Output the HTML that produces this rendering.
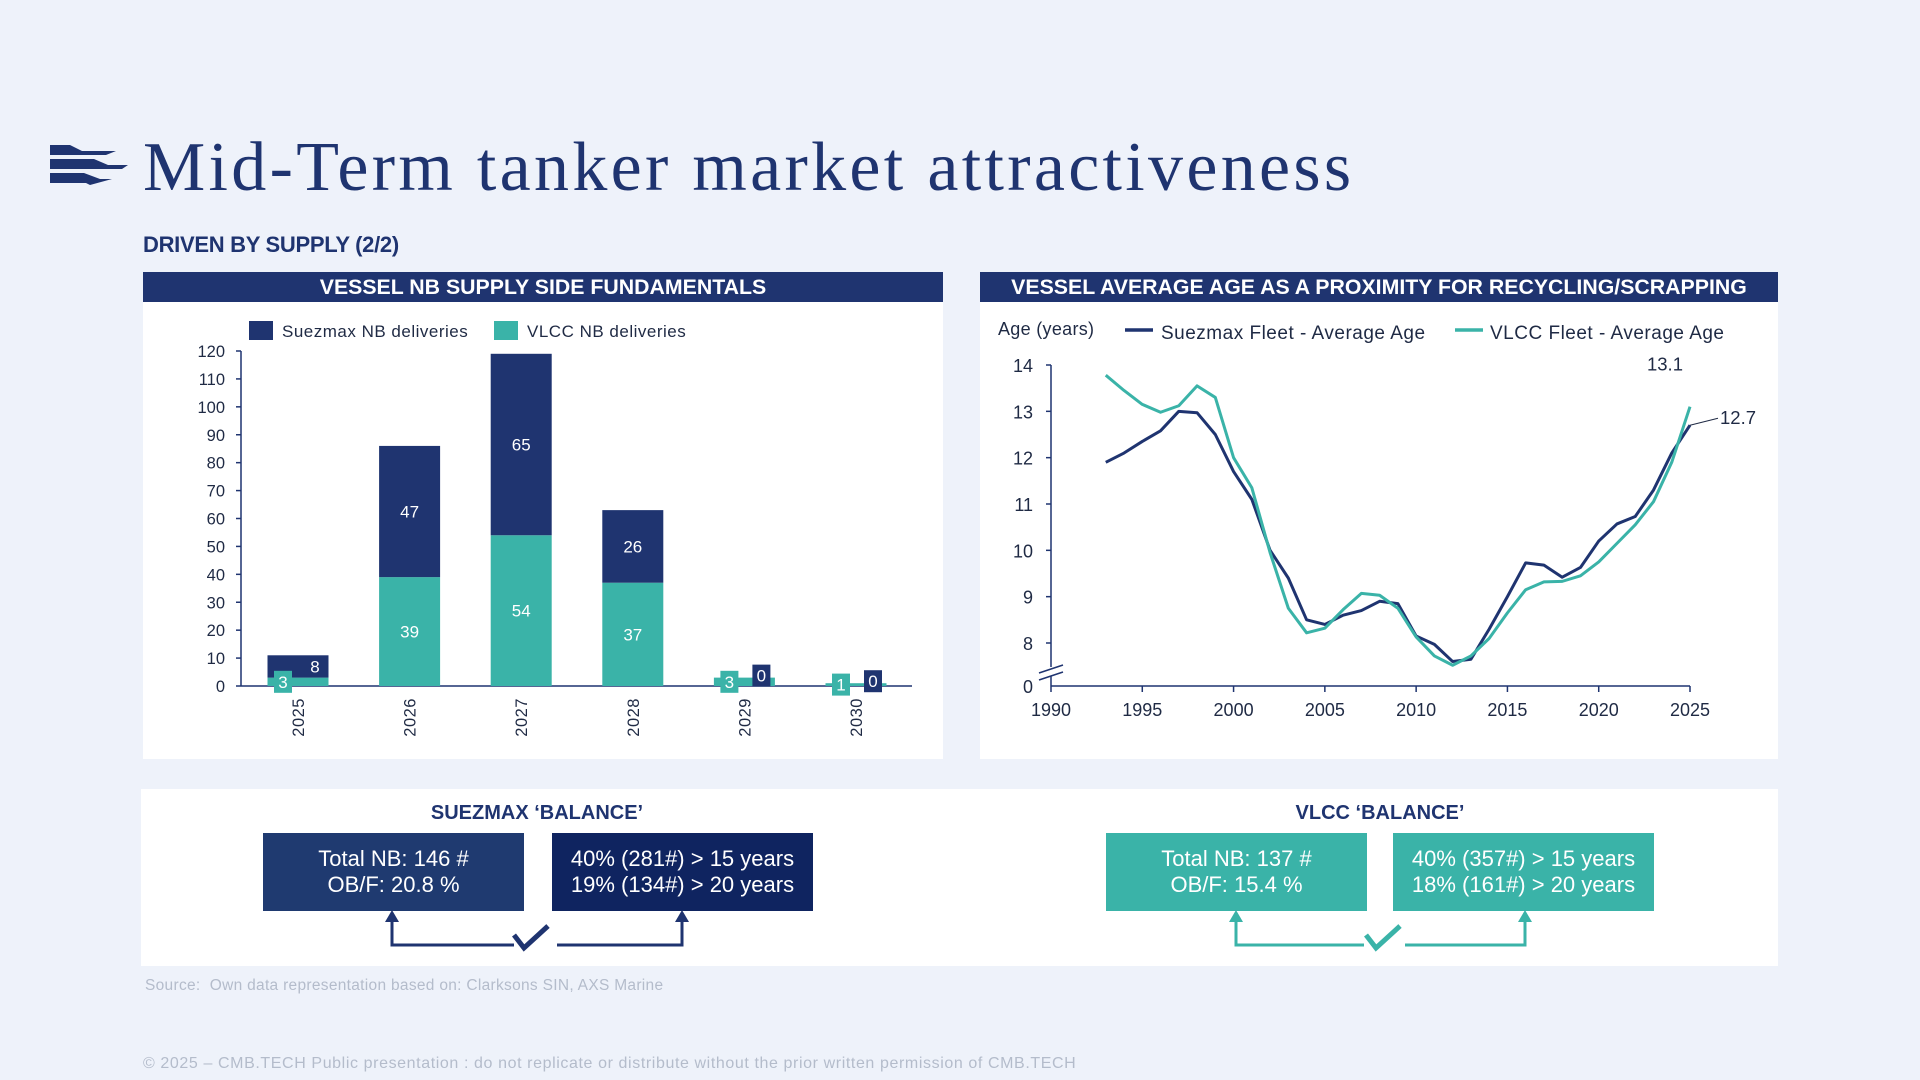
<!DOCTYPE html>
<html><head><meta charset="utf-8">
<style>
body{margin:0;width:1920px;height:1080px;background:#eef2fa;font-family:"Liberation Sans",sans-serif;position:relative;overflow:hidden;color:#1f3470}
.abs{position:absolute}
.panel{position:absolute;background:#fff}
.hdr{position:absolute;left:0;right:0;top:0;height:30px;background:#1f3470;color:#fff;font-weight:bold;font-size:21.3px;text-align:center;line-height:30px;letter-spacing:0px}
.box{position:absolute;color:#fff;font-size:22px;text-align:center;display:flex;flex-direction:column;justify-content:center;line-height:26px}
.bt{position:absolute;font-weight:bold;font-size:20px;text-align:center;width:400px}
</style></head><body>
<svg class="abs" style="left:50px;top:143px" width="78" height="44">
<path d="M0 2 H20 L32 8 H66 L56 12 H0Z M0 16 H44 L58 22 H78 L72 26 H0Z M0 30 H34 L50 36 H62 L40 42 L36 40 H0Z" fill="#1f3470"/>
</svg>
<div class="abs" style="left:143px;top:128px;font-family:'Liberation Serif',serif;font-size:70px;color:#1f3470;letter-spacing:3.3px">Mid-Term tanker market attractiveness</div>
<div class="abs" style="left:143px;top:232px;font-size:22px;font-weight:bold;letter-spacing:-0.3px">DRIVEN BY SUPPLY (2/2)</div>

<div class="panel" style="left:143px;top:272px;width:800px;height:487px">
<div class="hdr">VESSEL NB SUPPLY SIDE FUNDAMENTALS</div>
</div>
<div class="panel" style="left:980px;top:272px;width:798px;height:487px">
<div class="hdr">VESSEL AVERAGE AGE AS A PROXIMITY FOR RECYCLING/SCRAPPING</div>
</div>

<svg id="bar" class="abs" style="left:0;top:0" width="1920" height="1080"></svg>

<div class="panel" style="left:141px;top:789px;width:1637px;height:177px"></div>
<div class="bt" style="left:337px;top:802px">SUEZMAX ‘BALANCE’</div>
<div class="bt" style="left:1180px;top:802px">VLCC ‘BALANCE’</div>
<div class="box" style="left:263px;top:833px;width:261px;height:78px;background:#1f3a70"><div>Total NB: 146 #</div><div>OB/F: 20.8 %</div></div>
<div class="box" style="left:552px;top:833px;width:261px;height:78px;background:#0f2460"><div>40% (281#) &gt; 15 years</div><div>19% (134#) &gt; 20 years</div></div>
<div class="box" style="left:1106px;top:833px;width:261px;height:78px;background:#3ab3a8"><div>Total NB: 137 #</div><div>OB/F: 15.4 %</div></div>
<div class="box" style="left:1393px;top:833px;width:261px;height:78px;background:#3ab3a8"><div>40% (357#) &gt; 15 years</div><div>18% (161#) &gt; 20 years</div></div>
<svg class="abs" style="left:0;top:0" width="1920" height="1080">
<g fill="none" stroke="#1f3470" stroke-width="3">
<path d="M392 918 V945 H514 M557 945 H682 V918"/>
<path d="M514 935 L524 948 L548 926" stroke-width="5"/>
</g>
<path d="M385 922 L392 910 L399 922Z M675 922 L682 910 L689 922Z" fill="#1f3470"/>
<g fill="none" stroke="#3ab3a8" stroke-width="3">
<path d="M1236 918 V945 H1364 M1405 945 H1525 V918"/>
<path d="M1366 935 L1376 948 L1400 926" stroke-width="5"/>
</g>
<path d="M1229 922 L1236 910 L1243 922Z M1518 922 L1525 910 L1532 922Z" fill="#3ab3a8"/>
</svg>

<div class="abs" style="left:145px;top:977px;font-size:15.5px;color:#b4bccb;letter-spacing:0.3px">Source:&nbsp; Own data representation based on: Clarksons SIN, AXS Marine</div>
<div class="abs" style="left:143px;top:1055px;font-size:16px;color:#b4bccb;letter-spacing:0.6px">© 2025 – CMB.TECH Public presentation : do not replicate or distribute without the prior written permission of CMB.TECH</div>

<script>
const years=["2025","2026","2027","2028","2029","2030"];
const suezmaxNB=[8,47,65,26,0,0];
const vlccNB=[3,39,54,37,3,1];
const barTicks=[0,10,20,30,40,50,60,70,80,90,100,110,120];

const ageYears=[1993,1994,1995,1996,1997,1998,1999,2000,2001,2002,2003,2004,2005,2006,2007,2008,2009,2010,2011,2012,2013,2014,2015,2016,2017,2018,2019,2020,2021,2022,2023,2024,2025];
const suezmaxAge=[11.9,12.1,12.35,12.58,13.0,12.97,12.5,11.7,11.1,10.0,9.4,8.5,8.4,8.6,8.7,8.9,8.85,8.15,7.97,7.6,7.65,8.3,9.0,9.73,9.68,9.42,9.63,10.2,10.57,10.73,11.3,12.1,12.7];
const vlccAge=[13.78,13.45,13.15,12.98,13.12,13.55,13.3,12.0,11.35,9.95,8.75,8.22,8.32,8.72,9.07,9.03,8.75,8.13,7.72,7.52,7.72,8.1,8.65,9.15,9.32,9.33,9.45,9.75,10.15,10.55,11.05,11.9,13.1];
const ageYTicks=[8,9,10,11,12,13,14];
const ageXTicks=[1990,1995,2000,2005,2010,2015,2020,2025];

const NAVY="#1f3470",TEAL="#3ab3a8";
const svg=document.getElementById('bar');
const NS="http://www.w3.org/2000/svg";
function mk(tag,attrs,parent){const e=document.createElementNS(NS,tag);for(const k in attrs)e.setAttribute(k,attrs[k]);(parent||svg).appendChild(e);return e;}
function txt(s,attrs){const e=mk('text',Object.assign({'font-family':'Liberation Sans, sans-serif','fill':'#1f2a44'},attrs));e.textContent=s;return e;}

// ---- bar chart ----
const bx0=241,by0=686,by120=351;
const yB=v=>by0-(v/120)*(by0-by120);
const xB=i=>298+i*111.6;
const bw=61;
let g=mk('g',{});


mk('line',{x1:bx0,y1:by120,x2:bx0,y2:by0,stroke:NAVY,'stroke-width':1.5},g);
mk('line',{x1:bx0,y1:by0,x2:912,y2:by0,stroke:NAVY,'stroke-width':1.5},g);
barTicks.forEach(t=>{
  mk('line',{x1:bx0-5,y1:yB(t),x2:bx0,y2:yB(t),stroke:NAVY,'stroke-width':1.5},g);
  const e=txt(String(t),{x:bx0-16,y:yB(t)+6,'font-size':16.5,'text-anchor':'end'});
  
  
});
years.forEach((yr,i)=>{
  const cx=xB(i);
  const v=vlccNB[i],s=suezmaxNB[i];
  const r1=mk('rect',{x:cx-bw/2,y:yB(v),width:bw,height:yB(0)-yB(v),fill:TEAL});
  
  
  const r2=mk('rect',{x:cx-bw/2,y:yB(v+s),width:bw,height:yB(v)-yB(v+s),fill:NAVY});
  
  
  if(v+s>20){
    const a=txt(String(v),{x:cx,y:(yB(v)+yB(0))/2+6,'font-size':17,'text-anchor':'middle',fill:'#fff'});
    
    
    const b=txt(String(s),{x:cx,y:(yB(v+s)+yB(v))/2+6,'font-size':17,'text-anchor':'middle',fill:'#fff'});
    
    
  } else {
    const lx1=cx-15,lx2=cx+17;
    mk('rect',{x:lx1-9,y:yB(v/2)-11,width:18,height:22,fill:TEAL});
    const a=txt(String(v),{x:lx1,y:yB(v/2)+6,'font-size':17,'text-anchor':'middle',fill:'#fff'});
    
    
    if(s>0){
      const b=txt(String(s),{x:cx+17,y:(yB(v+s)+yB(v))/2+6,'font-size':17,'text-anchor':'middle',fill:'#fff'});
      
      
    } else {
      mk('rect',{x:lx2-9,y:yB(v)-13,width:18,height:22,fill:NAVY});
      const b=txt(String(s),{x:lx2,y:yB(v)+4,'font-size':17,'text-anchor':'middle',fill:'#fff'});
      
      
    }
  }
  const yl=txt(yr,{x:0,y:0,'font-size':16.5,'text-anchor':'end','letter-spacing':'0.5',transform:`translate(${cx+6},${by0+12}) rotate(-90)`});
  
  
});
// legend
let lg=mk('g',{});


mk('rect',{x:249,y:321,width:24,height:19,fill:NAVY},lg);
txt('Suezmax NB deliveries',{x:282,y:337,'font-size':17,'letter-spacing':'0.5'});
mk('rect',{x:494,y:321,width:24,height:19,fill:TEAL},lg);
txt('VLCC NB deliveries',{x:527,y:337,'font-size':17,'letter-spacing':'0.5'});

// ---- line chart ----
const ax0=1051,ax1=1690,ay14=365,ay8=643,ay0=686;
const xL=yr=>ax0+(yr-1990)/35*(ax1-ax0);
const yL=v=>ay8-(v-8)/6*(ay8-ay14);
let ag=mk('g',{});


mk('line',{x1:ax0,y1:ay14,x2:ax0,y2:ay0,stroke:NAVY,'stroke-width':1.5},ag);
mk('line',{x1:ax0,y1:ay0,x2:ax1,y2:ay0,stroke:NAVY,'stroke-width':1.5},ag);
mk('rect',{x:ax0-14,y:667,width:28,height:9,fill:'#fff'},ag);
mk('line',{x1:ax0-12,y1:673,x2:ax0+12,y2:665,stroke:NAVY,'stroke-width':1.5},ag);
mk('line',{x1:ax0-12,y1:680,x2:ax0+12,y2:672,stroke:NAVY,'stroke-width':1.5},ag);
ageYTicks.forEach(t=>{
  mk('line',{x1:ax0-5,y1:yL(t),x2:ax0,y2:yL(t),stroke:NAVY,'stroke-width':1.5},ag);
  const e=txt(String(t),{x:ax0-18,y:yL(t)+7,'font-size':18,'text-anchor':'end'});
  
  
});
const z=txt('0',{x:ax0-18,y:ay0+7,'font-size':18,'text-anchor':'end'});


ageXTicks.forEach(t=>{
  mk('line',{x1:xL(t),y1:ay0,x2:xL(t),y2:ay0+6,stroke:NAVY,'stroke-width':1.5},ag);
  const e=txt(String(t),{x:xL(t),y:ay0+30,'font-size':18,'text-anchor':'middle'});
  
  
});
function line(vals,color,name){
  const p=mk('polyline',{points:vals.map((v,i)=>xL(ageYears[i])+','+yL(v)).join(' '),fill:'none',stroke:color,'stroke-width':3,'stroke-linejoin':'round'});
  
  
}
line(suezmaxAge,NAVY,'suezmax-age-line');
line(vlccAge,TEAL,'vlcc-age-line');
const lastS=suezmaxAge[suezmaxAge.length-1],lastV=vlccAge[vlccAge.length-1];
mk('line',{x1:xL(2025),y1:yL(lastS),x2:xL(2025)+28,y2:yL(lastS)-7,stroke:'#1f2a44','stroke-width':1});
const l1=txt(lastS.toFixed(1),{x:xL(2025)+30,y:yL(lastS)-1,'font-size':18.5});


const l2=txt(lastV.toFixed(1),{x:xL(2025)-25,y:yL(lastV)-36,'font-size':18.5,'text-anchor':'middle'});


const at=txt('Age (years)',{x:998,y:335,'font-size':18,'letter-spacing':'0.3'});


let l=mk('g',{});


mk('line',{x1:1125,y1:330,x2:1153,y2:330,stroke:NAVY,'stroke-width':3.5},l);
txt('Suezmax Fleet - Average Age',{x:1161,y:339,'font-size':19,'letter-spacing':'0.5'});
mk('line',{x1:1455,y1:330,x2:1483,y2:330,stroke:TEAL,'stroke-width':3.5},l);
txt('VLCC Fleet - Average Age',{x:1490,y:339,'font-size':19,'letter-spacing':'0.5'});
</script>
</body></html>
